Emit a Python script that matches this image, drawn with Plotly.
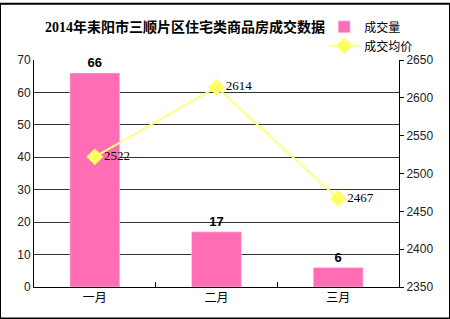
import plotly.graph_objects as go

months = ["一月", "二月", "三月"]
volume = [66, 17, 6]
avg_price = [2522, 2614, 2467]

fig = go.Figure()
fig.add_trace(go.Bar(
    x=months, y=volume, name="成交量", marker_color="#FF6EB4",
    width=0.41, text=[str(v) for v in volume], textposition="outside",
    textfont=dict(family="Liberation Sans", size=13, color="black"),
    texttemplate="<b>%{text}</b>", cliponaxis=False,
))
fig.add_trace(go.Scatter(
    x=months, y=avg_price, name="成交均价", yaxis="y2",
    mode="lines+markers+text",
    line=dict(color="#FFFF80", width=2),
    marker=dict(symbol="diamond", size=13, color="#FFFF66"),
    text=[str(v) for v in avg_price], textposition="middle right",
    textfont=dict(family="Liberation Serif", size=13, color="black"),
    cliponaxis=False,
))

fig.update_layout(
    width=450, height=319,
    margin=dict(l=34, r=51, t=57, b=32),
    paper_bgcolor="white", plot_bgcolor="white",
    title=dict(text="<b>2014年耒阳市三顺片区住宅类商品房成交数据</b>",
               x=(185) / 450, xanchor="center", y=1 - 27 / 319, yanchor="middle",
               font=dict(family="Liberation Serif, Noto Sans CJK SC", size=14, color="black")),
    showlegend=True,
    legend=dict(x=0.795, y=1.21, xanchor="left", yanchor="top",
                font=dict(family="Noto Sans CJK SC", size=12, color="black"),
                bgcolor="rgba(0,0,0,0)", tracegroupgap=0, itemwidth=30),
    bargap=0.59,
    xaxis=dict(type="category", showline=True, linecolor="black", linewidth=1,
               ticks="inside", tickson="boundaries", ticklen=5, tickcolor="black",
               tickfont=dict(family="Noto Sans CJK SC", size=12, color="black"),
               showgrid=False, mirror=False),
    yaxis=dict(range=[0, 70], dtick=10, showline=True, linecolor="black", linewidth=1,
               showgrid=True, gridcolor="#333333", gridwidth=1, zeroline=False,
               ticks="", tickfont=dict(family="Liberation Sans", size=12, color="#222")),
    yaxis2=dict(range=[2350, 2650], dtick=50, overlaying="y", side="right",
                showline=True, linecolor="black", linewidth=1, showgrid=False,
                ticks="outside", ticklen=4, tickcolor="black", zeroline=False,
                tickfont=dict(family="Liberation Sans", size=12, color="#222")),
    shapes=[dict(type="rect", xref="paper", yref="paper",
                 x0=-34/365, x1=1 + 51/365, y0=-32/230, y1=1 + 57/230,
                 line=dict(color="black", width=2), fillcolor="rgba(0,0,0,0)")],
)

fig.write_html("out.html")
